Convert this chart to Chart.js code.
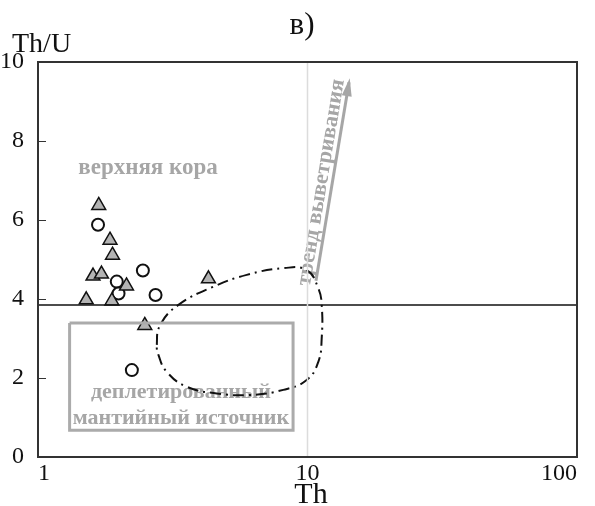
<!DOCTYPE html>
<html>
<head>
<meta charset="utf-8">
<script src="https://cdn.jsdelivr.net/npm/chart.js@4/dist/chart.umd.min.js"></script>
<style>
  body { margin: 0; background: #fff; }
  #wrap { width: 595px; height: 506px; position: relative; }
</style>
</head>
<body>
<div id="wrap"><canvas id="chart"></canvas></div>
<script>
// axis ticks
const xTicks = [1, 10, 100];
const yTicks = [0, 2, 4, 6, 8, 10];

// samples (triangles)
const triTh  = [1.68, 1.85, 1.89, 1.60, 1.72, 2.13, 1.51, 1.88, 4.29, 2.49];
const triThU = [6.37, 5.49, 5.11, 4.58, 4.63, 4.33, 3.98, 3.95, 4.51, 3.33];

// samples (circles)
const circTh  = [1.67, 2.45, 1.96, 1.99, 2.73, 2.23];
const circThU = [5.88, 4.72, 4.44, 4.14, 4.10, 2.20];

// reference lines
const boundaryTh  = [1, 100];
const boundaryThU = [3.85, 3.85];
const tenTh  = [10, 10];
const tenThU = [0, 10];

// depleted mantle box
const rectTh  = [1.31, 8.84, 8.84, 1.31, 1.31];
const rectThU = [3.39, 3.39, 0.68, 0.68, 3.39];

// dash-dot field
const fieldTh  = [2.76, 2.84, 3.32, 4.47, 5.95, 8.13, 9.93, 10.97, 11.29, 11.29, 10.97, 9.93, 8.13, 6.12, 4.60, 3.56, 3.00, 2.80];
const fieldThU = [2.84, 3.34, 3.85, 4.31, 4.61, 4.78, 4.73, 4.27, 3.85, 3.01, 2.41, 1.95, 1.70, 1.57, 1.61, 1.78, 2.16, 2.58];

// weathering trend arrow
const trendTh  = [10.75, 14.26];
const trendThU = [4.46, 9.49];

const zip = (xs, ys) => xs.map((x, i) => ({ x: x, y: ys[i] }));

// closed smooth loop: pad with neighbours, hide the padding segments
const fieldPts = zip(fieldTh, fieldThU);
const fieldLoop = [fieldPts[fieldPts.length - 1], ...fieldPts, fieldPts[0], fieldPts[1]];

const serif = '"Liberation Serif", "DejaVu Serif", serif';
const grey = '#a6a6a6';

const decor = {
    id: 'decor',
    beforeDatasetsDraw(chart) {
        const ctx = chart.ctx;
        const xs = chart.scales.x, ys = chart.scales.y;
        ctx.save();
        ctx.fillStyle = grey;
        ctx.textAlign = 'center';
        ctx.textBaseline = 'middle';
        ctx.font = 'bold 23px ' + serif;
        ctx.fillText('верхняя кора', xs.getPixelForValue(2.56), ys.getPixelForValue(7.32));
        ctx.font = 'bold 22px ' + serif;
        ctx.fillText('деплетированный', xs.getPixelForValue(3.39), ys.getPixelForValue(1.65));
        ctx.fillText('мантийный источник', xs.getPixelForValue(3.39), ys.getPixelForValue(0.99));

        // trend label along the arrow
        const meta = chart.getDatasetMeta(5);
        const a = meta.data[0], b = meta.data[1];
        const ang = Math.atan2(b.y - a.y, b.x - a.x);
        ctx.translate(xs.getPixelForValue(11.25), ys.getPixelForValue(6.95));
        ctx.rotate(ang);
        ctx.fillText('тренд выветривания', 0, 0);
        ctx.restore();
    },
    afterDatasetsDraw(chart) {
        const ctx = chart.ctx;
        const area = chart.chartArea;
        const ys = chart.scales.y;
        ctx.save();
        // arrow head
        const meta = chart.getDatasetMeta(5);
        const a = meta.data[0], b = meta.data[1];
        const ang = Math.atan2(b.y - a.y, b.x - a.x);
        ctx.translate(b.x, b.y);
        ctx.rotate(ang);
        ctx.fillStyle = grey;
        ctx.beginPath();
        ctx.moveTo(4, 0);
        ctx.lineTo(-14, -5);
        ctx.lineTo(-14, 5);
        ctx.closePath();
        ctx.fill();
        ctx.restore();

        // frame
        ctx.save();
        ctx.strokeStyle = '#333';
        ctx.lineWidth = 2;
        ctx.strokeRect(area.left, area.top, area.right - area.left, area.bottom - area.top);
        // inner y ticks
        ctx.lineWidth = 1.2;
        ctx.beginPath();
        yTicks.slice(1, -1).forEach(v => {
            const py = Math.round(ys.getPixelForValue(v)) + 0.5;
            ctx.moveTo(area.left, py);
            ctx.lineTo(area.left + 8, py);
        });
        ctx.stroke();
        ctx.restore();
    },
    afterDraw(chart) {
        const ctx = chart.ctx;
        ctx.save();
        ctx.fillStyle = '#111';
        ctx.textBaseline = 'alphabetic';
        ctx.font = '31px ' + serif;
        ctx.textAlign = 'center';
        ctx.fillText('в)', 302, 34);
        ctx.font = '28px ' + serif;
        ctx.textAlign = 'left';
        ctx.fillText('Th/U', 12, 52);
        ctx.font = '30px ' + serif;
        ctx.textAlign = 'center';
        ctx.fillText('Th', 311, 503);
        ctx.restore();
    }
};

new Chart(document.getElementById('chart'), {
    type: 'scatter',
    data: {
        datasets: [
            {
                data: zip(tenTh, tenThU),
                showLine: true, borderColor: '#dcdcdc', borderWidth: 1.5, pointRadius: 0
            },
            {
                data: zip(boundaryTh, boundaryThU),
                showLine: true, borderColor: '#111', borderWidth: 1.5, pointRadius: 0
            },
            {
                data: zip(rectTh, rectThU),
                showLine: true, borderColor: '#ababab', borderWidth: 3, pointRadius: 0
            },
            {
                data: fieldLoop,
                showLine: true, tension: 0.45, borderColor: '#111', borderWidth: 2,
                borderDash: [11, 5, 2, 5], pointRadius: 0,
                segment: {
                    borderColor: c => (c.p0DataIndex === 0 || c.p0DataIndex === fieldLoop.length - 2) ? 'rgba(0,0,0,0)' : '#111'
                }
            },
            {
                data: zip(triTh, triThU),
                pointStyle: 'triangle', pointRadius: 8,
                backgroundColor: '#b3b3b3', borderColor: '#111', borderWidth: 1.5
            },
            {
                data: zip(trendTh, trendThU),
                showLine: true, borderColor: grey, borderWidth: 3, pointRadius: 0
            },
            {
                data: zip(circTh, circThU),
                pointStyle: 'circle', pointRadius: 6,
                backgroundColor: '#fff', borderColor: '#111', borderWidth: 2
            }
        ]
    },
    options: {
        responsive: true,
        maintainAspectRatio: false,
        animation: false,
        layout: { padding: { top: 62, right: 18, left: 0, bottom: 0 } },
        plugins: { legend: { display: false }, tooltip: { enabled: false } },
        scales: {
            x: {
                type: 'logarithmic',
                min: 1, max: 100,
                grid: { display: false },
                border: { display: false },
                afterBuildTicks: s => { s.ticks = xTicks.map(v => ({ value: v })); },
                afterFit: s => { s.height = 49; },
                ticks: {
                    align: 'inner', padding: -6, maxRotation: 0, autoSkip: false,
                    color: '#111', font: { family: serif, size: 24 },
                    callback: v => String(v)
                }
            },
            y: {
                min: 0, max: 10,
                grid: { display: false },
                border: { display: false },
                afterBuildTicks: s => { s.ticks = yTicks.map(v => ({ value: v })); },
                afterFit: s => { s.width = 38; },
                ticks: {
                    padding: 6, color: '#111', font: { family: serif, size: 24 }
                }
            }
        }
    },
    plugins: [decor]
});
</script>
</body>
</html>
